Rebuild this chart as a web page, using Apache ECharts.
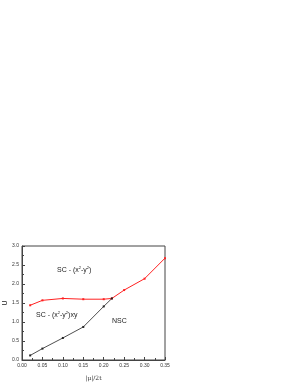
<!DOCTYPE html>
<html><head><meta charset="utf-8">
<script src="https://cdn.jsdelivr.net/npm/echarts@6/dist/echarts.min.js"></script>
<style>html,body{margin:0;padding:0;background:#fff}#c{width:299px;height:387px}</style>
</head><body><div id="c"></div>
<script>
const redX = [0.02, 0.05, 0.10, 0.15, 0.20, 0.22, 0.25, 0.30, 0.35];
const redU = [1.44, 1.57, 1.62, 1.60, 1.60, 1.62, 1.84, 2.14, 2.68];
const blackX = [0.02, 0.05, 0.10, 0.15, 0.20, 0.22];
const blackU = [0.12, 0.30, 0.58, 0.87, 1.41, 1.62];
const xTicks = ['0.00','0.05','0.10','0.15','0.20','0.25','0.30','0.35'];
const yTicks = ['0.0','0.5','1.0','1.5','2.0','2.5','3.0'];

const chart = echarts.init(document.getElementById('c'));
const axisCommon = {
  axisLine: {show: true, lineStyle: {color: '#444', width: 1}},
  axisTick: {show: true, inside: true, length: 3, lineStyle: {color: '#444'}},
  minorTick: {show: true, splitNumber: 2, length: 2, lineStyle: {color: '#444'}},
  splitLine: {show: false}
};
chart.setOption({
  animation: false,
  grid: {left: 22, right: 134, top: 246, bottom: 27, show: true, borderColor: '#444', borderWidth: 1},
  xAxis: Object.assign({
    type: 'value', min: 0, max: 0.35, interval: 0.05,
    name: '|\u03bc|/2t', nameLocation: 'middle', nameGap: 15,
    nameTextStyle: {fontFamily: 'DejaVu Serif', fontSize: 6, color: '#333'},
    axisLabel: {fontSize: 5, color: '#333', margin: 3, fontFamily: 'Liberation Sans',
      formatter: v => xTicks[Math.round(v / 0.05)]}
  }, axisCommon),
  yAxis: Object.assign({
    type: 'value', min: 0, max: 3, interval: 0.5,
    name: 'U', nameLocation: 'middle', nameGap: 12,
    nameTextStyle: {fontFamily: 'Liberation Sans', fontSize: 7, color: '#222'},
    axisLabel: {fontSize: 5, color: '#333', margin: 3, fontFamily: 'Liberation Sans',
      formatter: v => yTicks[Math.round(v / 0.5)]}
  }, axisCommon),
  series: [
    {type: 'line', data: redX.map((x, i) => [x, redU[i]]), symbol: 'rect', symbolSize: 2,
     lineStyle: {color: '#ff2020', width: 1}, itemStyle: {color: '#ff2020'}},
    {type: 'line', data: blackX.map((x, i) => [x, blackU[i]]), symbol: 'rect', symbolSize: 2,
     lineStyle: {color: '#222', width: 0.8}, itemStyle: {color: '#222'}}
  ],
  graphic: [
    {type: 'text', left: 57, top: 266, style: {
      rich: {n: {fontSize: 7, fontFamily: 'Liberation Sans', fill: '#222'}, s: {fontSize: 4, fontFamily: 'Liberation Sans', fill: '#222', verticalAlign: 'top', padding: [0,0,4,0]}},
      text: '{n|SC - (x}{s|2}{n|-y}{s|2}{n|)}'}},
    {type: 'text', left: 36, top: 311, style: {
      rich: {n: {fontSize: 7, fontFamily: 'Liberation Sans', fill: '#222'}, s: {fontSize: 4, fontFamily: 'Liberation Sans', fill: '#222', padding: [0,0,4,0]}},
      text: '{n|SC - (x}{s|2}{n|-y}{s|2}{n|)xy}'}},
    {type: 'text', left: 112, top: 318, style: {text: 'NSC', fontSize: 7, fontFamily: 'Liberation Sans', fill: '#222'}}
  ]
});
</script></body></html>
